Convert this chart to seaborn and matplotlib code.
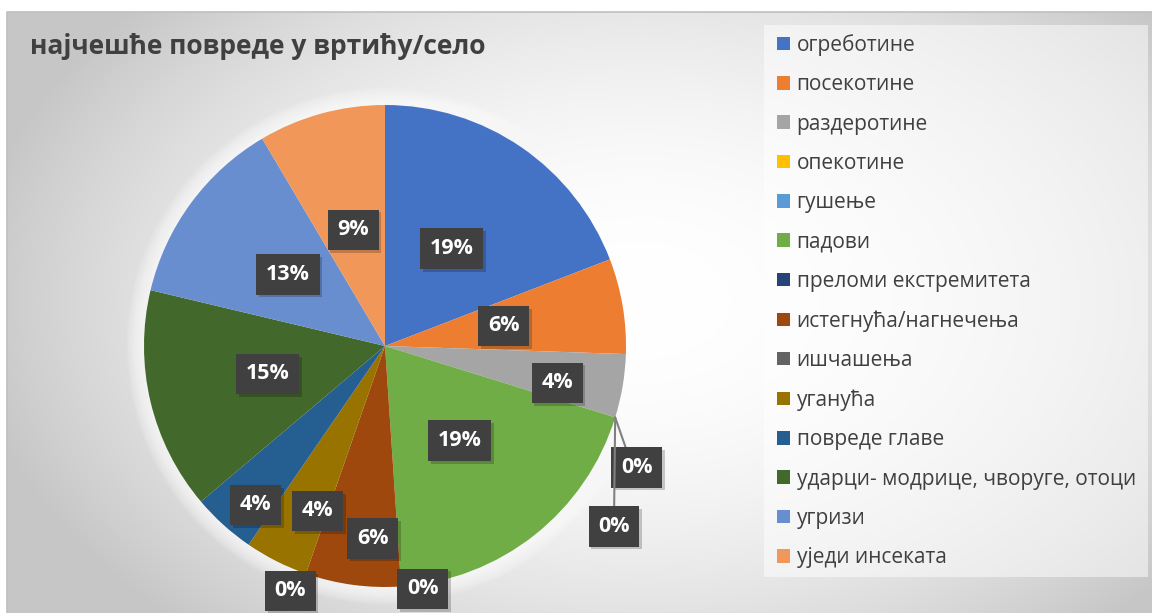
import numpy as np
import matplotlib
matplotlib.use("Agg")
import matplotlib.pyplot as plt
import matplotlib.patheffects as pe
from matplotlib.patches import Rectangle, Circle
import seaborn as sns

# --- data (counts of injuries, 47 in total) ---
categories = ["огреботине", "посекотине", "раздеротине", "опекотине", "гушење",
              "падови", "преломи екстремитета", "истегнућа/нагнечења", "ишчашења",
              "уганућа", "повреде главе", "ударци- модрице, чворуге, отоци",
              "угризи", "уједи инсеката"]
counts = [9, 3, 2, 0, 0, 9, 0, 3, 0, 2, 2, 7, 6, 4]
title = "најчешће повреде у вртићу/село"

# Excel office palette
colors = ["#4472C4", "#ED7D31", "#A5A5A5", "#FFC000", "#5B9BD5", "#70AD47",
          "#264478", "#9E480E", "#636363", "#997300", "#255E91", "#43682B",
          "#698ED0", "#F1975A"]

# label placement: radius as fraction of pie radius, clockwise shift in degrees
label_r = [0.49, 0.50, 0.73, 1.16, 1.21, 0.50, 1.02, 0.80, 1.09, 0.74, 0.85, 0.50, 0.50, 0.50]
label_shift = [0, 0, 2.5, 8.5, 21, 0, -5, -4, 2, -4.5, -3, 0, 0, 0]
leader = [False, False, False, True, True, False, False, False, False,
          False, False, False, False, False]

sns.set_theme(style="white")
plt.rcParams["font.family"] = ["Open Sans", "DejaVu Sans"]

W, H = 1152, 613
fig = plt.figure(figsize=(W / 100, H / 100), dpi=100)
fig.patch.set_facecolor("white")

# --- background: radial grey gradient inside the chart area ---
bg = fig.add_axes([0, 0, 1, 1], zorder=0)
bg.set_xlim(0, W)
bg.set_ylim(H, 0)
bg.axis("off")
yy, xx = np.mgrid[0:H, 0:W]
d = np.sqrt(((xx - 640) / 640.0) ** 2 + ((yy - 300) / 420.0) ** 2)
shade = np.clip(1 - 0.2 * d ** 2, 0.78, 1.0)
img = np.dstack([shade] * 3)
bg.imshow(img[12:, 7:], extent=(7, W, H, 12), interpolation="bilinear", aspect="auto")
bg.plot([7, 7, W], [H, 12, 12], color="#bfbfbf", lw=1.2)
# legend panel
bg.add_patch(Rectangle((764, 25), 384, 552, facecolor="white", alpha=0.5, lw=0))

# --- pie ---
R = 241.0
cx, cy = 385, 346
ax = fig.add_axes([0, 0, 1, 1], zorder=1)
ax.patch.set_alpha(0)

# soft glow around the pie
for i in range(12):
    ax.add_patch(Circle((0, 0), 1 + 0.006 * (i + 1), facecolor="white",
                        alpha=0.1, lw=0, zorder=0))

wedges, _ = ax.pie(counts, colors=colors, startangle=90, counterclock=False,
                   radius=1, wedgeprops=dict(linewidth=0))
ax.set_aspect("auto")
ax.set_xlim(-cx / R, (W - cx) / R)
ax.set_ylim(-(H - cy) / R, cy / R)
ax.axis("off")

total = sum(counts)
for i, w in enumerate(wedges):
    mid = np.deg2rad((w.theta1 + w.theta2) / 2 - label_shift[i])
    tx, ty = label_r[i] * np.cos(mid), label_r[i] * np.sin(mid)
    pct = f"{round(100 * counts[i] / total):d}%"
    box = dict(boxstyle="square,pad=0.45", facecolor="#404040",
               edgecolor="none", linewidth=0)
    if leader[i]:
        edge = np.deg2rad(w.theta1)
        t = ax.annotate(pct, xy=(np.cos(edge), np.sin(edge)), xytext=(tx, ty),
                        ha="center", va="center", fontsize=15.5, fontweight="bold",
                        color="white", bbox=box, zorder=5,
                        arrowprops=dict(arrowstyle="-", color="#808080", lw=1.5,
                                        shrinkA=0, shrinkB=0,
                                        relpos=(0.5 if i == 4 else 0.25, 1.0)))
    else:
        t = ax.text(tx, ty, pct, ha="center", va="center", fontsize=15.5,
                    fontweight="bold", color="white", bbox=box, zorder=5)
    t.get_bbox_patch().set_path_effects(
        [pe.SimplePatchShadow(offset=(2, -2), shadow_rgbFace="black", alpha=0.2),
         pe.Normal()])

# --- title ---
fig.text(30 / W, 1 - 54 / H, title, fontsize=19, fontweight="bold",
         color="#404040", va="baseline", ha="left")

# --- legend ---
leg = fig.legend(wedges, categories, loc="upper left",
                 bbox_to_anchor=(777 / W, 1 - 34 / H), frameon=False,
                 fontsize=15, labelcolor="#404040", handlelength=0.62,
                 handleheight=0.62, handletextpad=0.32, labelspacing=0.88,
                 borderpad=0, borderaxespad=0)

fig.savefig("out.png", dpi=100)
